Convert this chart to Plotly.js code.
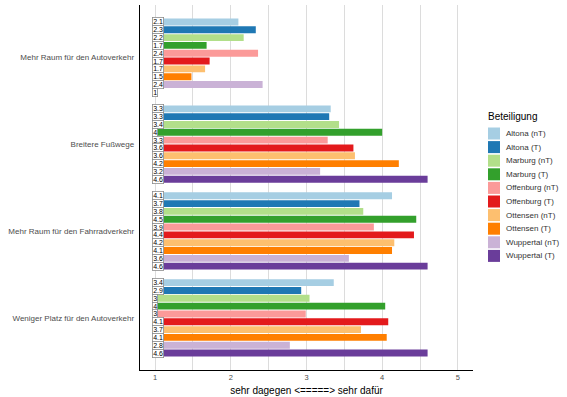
<!DOCTYPE html>
<html><head><meta charset="utf-8">
<script src="https://cdn.plot.ly/plotly-3.0.1.min.js"></script>
<style>html,body{margin:0;padding:0;background:#fff}#chart{width:567px;height:397px}</style>
</head><body><div id="chart"></div>
<script>
const categories = ["Mehr Raum für den Autoverkehr","Breitere Fußwege","Mehr Raum für den Fahrradverkehr","Weniger Platz für den Autoverkehr"];
const seriesNames = ["Altona (nT)","Altona (T)","Marburg (nT)","Marburg (T)","Offenburg (nT)","Offenburg (T)","Ottensen (nT)","Ottensen (T)","Wuppertal (nT)","Wuppertal (T)"];
const colors = ["#A6CEE3","#1F78B4","#B2DF8A","#33A02C","#FB9A99","#E31A1C","#FDBF6F","#FF7F00","#CAB2D6","#6A3D9A"];
// values per series, in category order
const altonaNT    = [2.10, 3.32, 4.13, 3.36];
const altonaT     = [2.33, 3.30, 3.70, 2.93];
const marburgNT   = [2.17, 3.43, 3.75, 3.04];
const marburgT    = [1.68, 4.00, 4.45, 4.04];
const offenburgNT = [2.36, 3.28, 3.89, 2.99];
const offenburgT  = [1.72, 3.62, 4.42, 4.08];
const ottensenNT  = [1.66, 3.64, 4.16, 3.72];
const ottensenT   = [1.48, 4.22, 4.13, 4.06];
const wuppertalNT = [2.42, 3.18, 3.56, 2.78];
const wuppertalT  = [1.00, 4.60, 4.60, 4.60];
const series = [altonaNT, altonaT, marburgNT, marburgT, offenburgNT, offenburgT, ottensenNT, ottensenT, wuppertalNT, wuppertalT];
const xTicks = [1,2,3,4,5];

const W = 567, H = 397, M = {l:140, r:94, t:5, b:27};
const pw = W - M.l - M.r, ph = H - M.t - M.b;
const px2x = p => (p - M.l) / pw;
const py2y = p => (H - M.b - p) / ph;

const fmt = v => { const s = v.toFixed(1); return s.endsWith('.0') ? s.slice(0,-2) : s; };

const traces = series.map((vals, j) => ({
  type: 'bar', orientation: 'h', name: seriesNames[j],
  y: categories, x: vals.map(v => v - 1), base: 1,
  marker: {color: colors[j], line: {width: 0}},
  showlegend: false, hoverinfo: 'skip'
}));

const n = series.length, groupW = 0.9, slot = groupW / n;
const annotations = [];
series.forEach((vals, j) => {
  vals.forEach((v, i) => {
    annotations.push({
      xref: 'x', yref: 'y', x: 0.965, y: i - groupW/2 + slot/2 + slot*j,
      xanchor: 'left', yanchor: 'middle', showarrow: false,
      text: fmt(v), font: {size: 7, color: '#000', family: 'Liberation Sans, Arial, sans-serif'},
      bgcolor: '#ffffff', bordercolor: '#8c8c8c', borderwidth: 0.8, borderpad: 0.4
    });
  });
});

// custom legend
const shapes = [];
const legTop = 133.5, legStep = 13.6;
annotations.push({xref:'paper', yref:'paper', x: px2x(486), y: py2y(117), xanchor:'left', yanchor:'middle',
  showarrow:false, text:'Beteiligung', font:{size:10, color:'#000', family:'Liberation Sans, Arial, sans-serif'}});
seriesNames.forEach((nm, j) => {
  const cy = legTop + legStep*j;
  shapes.push({type:'rect', xref:'paper', yref:'paper', x0: px2x(488), x1: px2x(500), y0: py2y(cy+6), y1: py2y(cy-6),
    fillcolor: colors[j], line:{width:0}});
  annotations.push({xref:'paper', yref:'paper', x: px2x(504), y: py2y(cy), xanchor:'left', yanchor:'middle',
    showarrow:false, text:nm, font:{size:8, color:'#333', family:'Liberation Sans, Arial, sans-serif'}});
});

const layout = {
  width: W, height: H, margin: M,
  paper_bgcolor: '#fff', plot_bgcolor: '#fff',
  font: {family: 'Liberation Sans, Arial, sans-serif'},
  barmode: 'group', bargap: 0.1, bargroupgap: 0.12,
  showlegend: false,
  xaxis: {
    range: [0.8, 5.2], tickvals: xTicks, ticktext: xTicks.map(String),
    showgrid: true, gridcolor: '#dcdcdc', gridwidth: 1,
    minor: {dtick: 0.5, tick0: 0, showgrid: true, gridcolor: '#dcdcdc', gridwidth: 1},
    zeroline: false, showline: true, linecolor: '#000', linewidth: 1.2,
    ticks: '', tickfont: {size: 7.5, color: '#4d4d4d'},
    title: {text: 'sehr dagegen &lt;=====&gt; sehr dafür', font: {size: 10, color: '#000'}, standoff: 5}
  },
  yaxis: {
    type: 'category', range: [3.6, -0.6], autorange: false,
    showgrid: false, zeroline: false, showline: true, linecolor: '#000', linewidth: 1.2,
    ticks: 'outside', ticklen: 3, tickcolor: 'rgba(0,0,0,0)', tickfont: {size: 8, color: '#4d4d4d'}
  },
  annotations: annotations, shapes: shapes
};
Plotly.newPlot('chart', traces, layout, {displayModeBar: false, staticPlot: true});
</script></body></html>
